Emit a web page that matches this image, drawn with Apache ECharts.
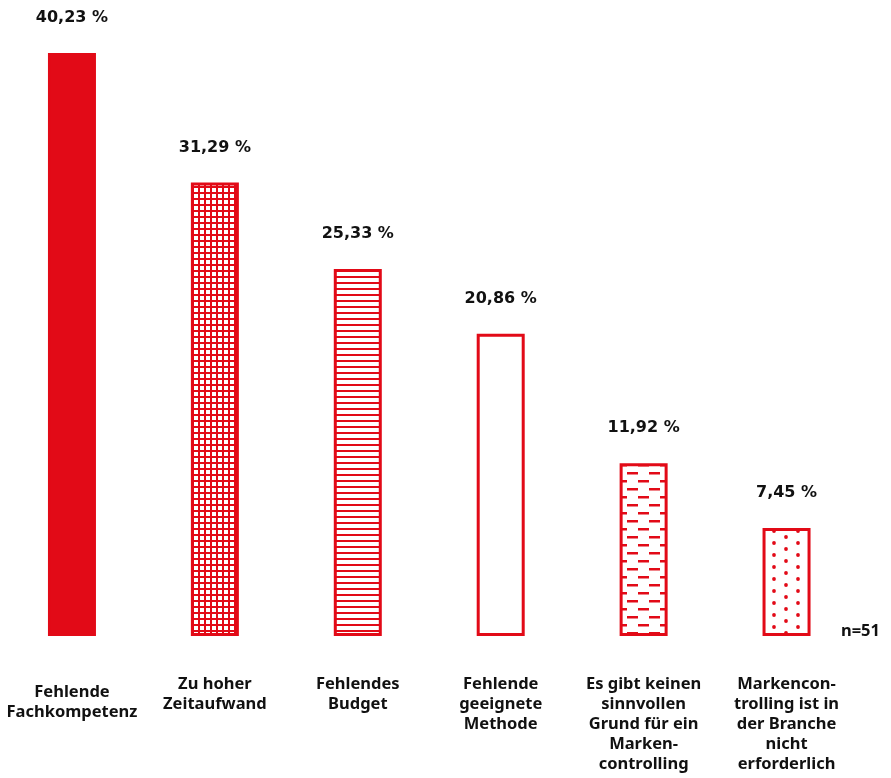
<!DOCTYPE html>
<html>
<head>
<meta charset="utf-8">
<script src="https://cdn.jsdelivr.net/npm/echarts@6/dist/echarts.min.js"></script>
<style>
  html, body { margin: 0; padding: 0; background: #fff; }
  #chart { width: 891px; height: 778px; }
</style>
</head>
<body>
<div id="chart"></div>
<script>
// Gründe gegen Markencontrolling (Anteil der Nennungen in %)
const categories = [
  'Fehlende\nFachkompetenz',
  'Zu hoher\nZeitaufwand',
  'Fehlendes\nBudget',
  'Fehlende\ngeeignete\nMethode',
  'Es gibt keinen\nsinnvollen\nGrund für ein\nMarken-\ncontrolling',
  'Markencon-\ntrolling ist in\nder Branche\nnicht\nerforderlich'
];
const values = [40.23, 31.29, 25.33, 20.86, 11.92, 7.45];
const sampleNote = 'n=51';

const RED = '#e20a17';
const TEXT = '#111';
const LABEL_FONT = '"Noto Sans", sans-serif';
const VALUE_FONT = '"DejaVu Sans", sans-serif';

// Kleine Kachelmuster für die Balkenfüllungen
function tile(w, h, draw) {
  const c = document.createElement('canvas');
  c.width = w; c.height = h;
  const ctx = c.getContext('2d');
  ctx.fillStyle = '#fff';
  ctx.fillRect(0, 0, w, h);
  ctx.fillStyle = RED;
  draw(ctx);
  return { image: c, repeat: 'repeat' };
}
const gridPattern = tile(6, 6, ctx => { ctx.fillRect(0, 0, 6, 2); ctx.fillRect(0, 0, 2, 6); });
const stripePattern = tile(6, 6, ctx => { ctx.fillRect(0, 0, 6, 2); });
const dashPattern = tile(22, 16, ctx => { ctx.fillRect(0, 0, 11, 2.5); ctx.fillRect(11, 8, 11, 2.5); });
const dotPattern = tile(24, 12, ctx => {
  ctx.beginPath(); ctx.arc(6, 3, 1.9, 0, Math.PI * 2); ctx.fill();
  ctx.beginPath(); ctx.arc(18, 9, 1.9, 0, Math.PI * 2); ctx.fill();
});
const fills = [RED, gridPattern, stripePattern, '#fff', dashPattern, dotPattern];

const chart = echarts.init(document.getElementById('chart'));
chart.setOption({
  animation: false,
  grid: { left: 0.5, right: 33, top: 53, bottom: 142 },
  xAxis: {
    type: 'category',
    data: categories.map((c, i) => i === 0
      ? { value: c, textStyle: { padding: [8, 0, 0, 0] } }
      : c),
    axisLine: { show: false },
    axisTick: { show: false },
    axisLabel: {
      interval: 0,
      margin: 38,
      color: TEXT,
      fontFamily: LABEL_FONT,
      fontWeight: 'bold',
      fontSize: 16.5,
      lineHeight: 20,
      align: 'center',
      verticalAlign: 'top'
    }
  },
  yAxis: {
    type: 'value',
    min: 0,
    max: 'dataMax',
    show: false,
    splitLine: { show: false }
  },
  series: [{
    type: 'bar',
    barWidth: 48,
    data: values.map((v, i) => ({
      value: v,
      itemStyle: { color: fills[i], borderColor: RED, borderWidth: 3 }
    })),
    label: {
      show: true,
      position: 'top',
      distance: 27,
      color: TEXT,
      fontFamily: VALUE_FONT,
      fontWeight: 'bold',
      fontSize: 16,
      formatter: p => p.value.toFixed(2).replace('.', ',') + ' %'
    }
  }],
  graphic: [{
    type: 'text',
    right: 11,
    top: 623,
    style: {
      text: sampleNote,
      fill: TEXT,
      font: 'bold 16.5px "Noto Sans", sans-serif'
    }
  }]
});
</script>
</body>
</html>
